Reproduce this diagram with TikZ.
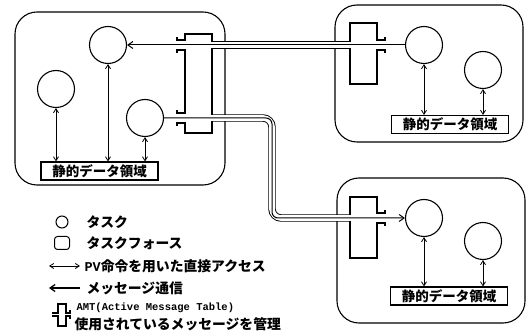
\documentclass[tikz,border=0pt]{standalone}
\usepackage{fontspec}
\usetikzlibrary{arrows.meta}
\newfontfamily\jp{Noto Sans CJK JP}
\newfontfamily\mono{Liberation Mono}
\begin{document}
\begin{tikzpicture}[x=1pt,y=-1pt,
  line width=1.1pt,
  tf/.style={draw, rounded corners=22pt},
  task/.style={draw, circle, minimum size=37pt, inner sep=0pt},
  databox/.style={draw, minimum width=117pt, minimum height=18pt, inner sep=0pt, font=\jp\bfseries\fontsize{13.5}{14}\selectfont},
  acc/.style={{Straight Barb[length=4pt,width=5pt]}-{Straight Barb[length=4pt,width=5pt]}, line width=0.8pt},
  msg/.style={-{Straight Barb[length=5pt,width=7pt]}, line width=1pt},
  pipe/.style={double distance=5.6pt, line width=0.9pt, double=white},
  lg/.style={anchor=west, inner sep=0pt, font=\jp\bfseries\fontsize{13.8}{14}\selectfont},
]
\useasboundingbox (0,0) rectangle (529,336);
% task forces
\draw[tf] (15,12) rectangle (225,185);
\draw[tf] (335,5) rectangle (523,142);
\draw[tf] (337,178) rectangle (525,323);
% tasks
\node[task] (A) at (108,45) {};
\node[task] (B) at (56,89) {};
\node[task] (C) at (145,118) {};
\node[task] (D) at (424,45) {};
\node[task] (E) at (483,70) {};
\node[task] (F) at (424,218) {};
\node[task] (G) at (483,241) {};
% static data
\node[databox] (S1) at (99.5,171) {静的データ領域};
\node[databox] (S2) at (450,124.5) {静的データ領域};
\node[databox] (S3) at (449,296) {静的データ領域};
\draw[acc] (B.south) -- (B.south |- S1.north);
\draw[acc] (A.south) -- (A.south |- S1.north);
\draw[acc] (C.south) -- (C.south |- S1.north);
\draw[acc] (D.south) -- (D.south |- S2.north);
\draw[acc] (E.south) -- (E.south |- S2.north);
\draw[acc] (F.south) -- (F.south |- S3.north);
\draw[acc] (G.south) -- (G.south |- S3.north);
% pipes
\coordinate (p1a) at (212,45); \coordinate (p1b) at (350,45);
\coordinate (p2a) at (212,118); \coordinate (k1) at (272,118);
\coordinate (k2) at (272,218); \coordinate (p2b) at (350,218);
\draw[pipe] (p1a) -- (p1b);
\draw[pipe, rounded corners=9pt] (p2a) -- (k1) -- (k2) -- (p2b);
% AMT left
\fill[white] (185,34) rectangle (212,133);
\draw (212,41.8) -- (212,34) -- (185,34) -- (185,40) -- (177,40) -- (177,37);
\draw (212,48.2) -- (212,114.8);
\draw (177,53) -- (177,50) -- (185,50) -- (185,113) -- (177,113) -- (177,110);
\draw (212,121.2) -- (212,133) -- (185,133) -- (185,123) -- (177,123) -- (177,126);
% AMT top right
\fill[white] (350,23) rectangle (377,84);
\draw (350,41.8) -- (350,23) -- (377,23) -- (377,40) -- (385,40) -- (385,37);
\draw (350,48.2) -- (350,84) -- (377,84) -- (377,50) -- (385,50) -- (385,53);
% AMT bottom right
\fill[white] (350,197) rectangle (377,258);
\draw (350,214.8) -- (350,197) -- (377,197) -- (377,213) -- (385,213) -- (385,210);
\draw (350,221.2) -- (350,258) -- (377,258) -- (377,223) -- (385,223) -- (385,226);
% messages
\draw[msg] (D.west) -- (A.east);
\draw[msg, rounded corners=6pt] (C.east) -- (k1) -- (k2) -- (F.west);
% legend
\node[task, minimum size=12pt, line width=1pt] (L1) at (62,222) {};
\node[lg] (T1) at (86,222) {タスク};
\node[draw, rounded corners=3pt, minimum width=15pt, minimum height=13pt, inner sep=0pt, line width=1pt] (L2) at (62,243) {};
\node[lg] (T2) at (86,243) {タスクフォース};
\coordinate (la1) at (49,266); \coordinate (la2) at (80,266);
\draw[acc] (la1) -- (la2);
\node[lg] (T3) at (84,266) {{\mono\bfseries\fontsize{13.5}{14}\selectfont PV}命令を用いた直接アクセス};
\coordinate (lm1) at (49,288); \coordinate (lm2) at (80,288);
\draw[msg, line width=1.3pt] (lm2) -- (lm1);
\node[lg] (T4) at (86,288) {メッセージ通信};
\draw (52,313) -- (58,313) -- (58,304) -- (66,304) -- (66,313) -- (70,313) -- (70,310);
\draw (52,316) -- (58,316) -- (58,326) -- (66,326) -- (66,316) -- (70,316) -- (70,319);
\node[anchor=west, inner sep=0pt, font=\mono\bfseries\fontsize{10.5}{11}\selectfont] (T5) at (76,308) {AMT(Active Message Table)};
\node[lg] (T6) at (74,324) {使用されているメッセージを管理};
\end{tikzpicture}
\end{document}
